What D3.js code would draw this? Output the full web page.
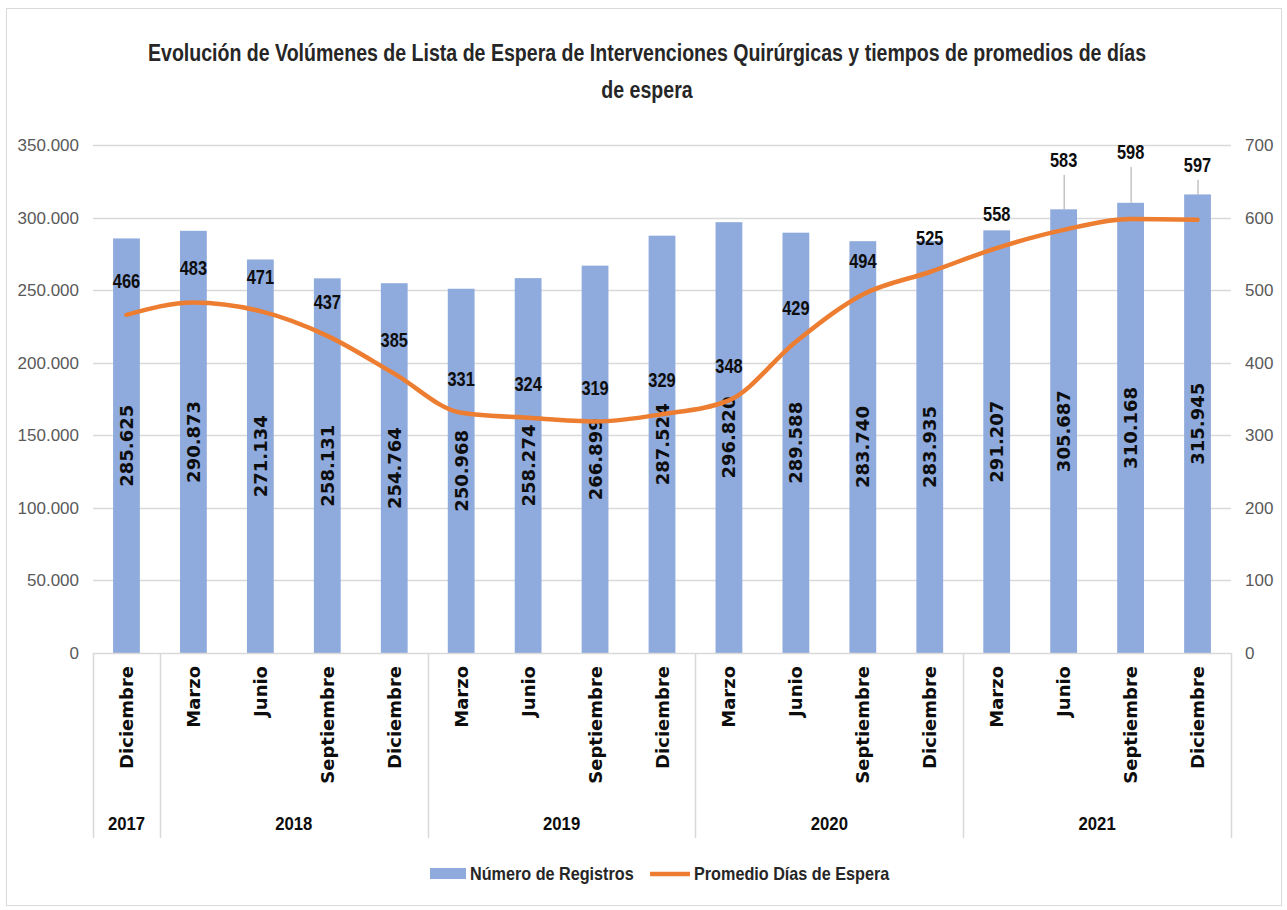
<!DOCTYPE html>
<html>
<head>
<meta charset="utf-8">
<script src="https://cdn.jsdelivr.net/npm/d3@7"></script>
<style>
  body { margin: 0; background: #fff; }
  .narrow { font-family: "Liberation Sans", Arial, sans-serif; }
  .wide { font-family: "DejaVu Sans", Verdana, sans-serif; }
</style>
</head>
<body>
<div id="chart"></div>
<script>
// categories
var years = ["2017", "2018", "2018", "2018", "2018", "2019", "2019", "2019", "2019",
             "2020", "2020", "2020", "2020", "2021", "2021", "2021", "2021"];
var months = ["Diciembre", "Marzo", "Junio", "Septiembre", "Diciembre", "Marzo", "Junio",
              "Septiembre", "Diciembre", "Marzo", "Junio", "Septiembre", "Diciembre",
              "Marzo", "Junio", "Septiembre", "Diciembre"];
// series
var registros = [285625, 290873, 271134, 258131, 254764, 250968, 258274, 266899, 287524,
                 296820, 289588, 283740, 283935, 291207, 305687, 310168, 315945];
var promedioDias = [466, 483, 471, 437, 385, 331, 324, 319, 329, 348, 429, 494, 525,
                    558, 583, 598, 597];
// axis ticks
var leftTicks = [0, 50000, 100000, 150000, 200000, 250000, 300000, 350000];
var rightTicks = [0, 100, 200, 300, 400, 500, 600, 700];

var width = 1287, height = 910;
var margin = { top: 145, left: 93, right: 56, bottom: 257 };

var es = d3.formatLocale({ decimal: ",", thousands: ".", grouping: [3], currency: ["", " €"] });
var fmt = es.format(",d");

var svg = d3.select("#chart").append("svg")
    .attr("width", width)
    .attr("height", height);

// chart frame
svg.append("rect")
    .attr("x", 6.5).attr("y", 8.5)
    .attr("width", 1275).attr("height", 897)
    .attr("fill", "#fff")
    .attr("stroke", "#d9d9d9");

// title, squeezed horizontally to look like the condensed original
var title = svg.append("text")
    .attr("class", "narrow")
    .attr("text-anchor", "middle")
    .attr("font-size", 24)
    .attr("font-weight", "bold")
    .attr("fill", "#262626");
var t1 = title.append("tspan").attr("x", 0).attr("y", 61)
    .text("Evolución de Volúmenes de Lista de Espera de Intervenciones Quirúrgicas y tiempos de promedios de días");
title.append("tspan").attr("x", 0).attr("y", 98).text("de espera");
var k = 999 / t1.node().getComputedTextLength();
title.attr("transform", "translate(647,0) scale(" + k + ",1)");

var x = d3.scaleBand()
    .domain(d3.range(registros.length))
    .range([margin.left, width - margin.right])
    .padding(0);

var y = d3.scaleLinear()
    .domain([0, 350000])
    .range([height - margin.bottom, margin.top]);

var y2 = d3.scaleLinear()
    .domain([0, 700])
    .range([height - margin.bottom, margin.top]);

var bw = x.bandwidth() * 0.4;

// gridlines
svg.append("g")
    .selectAll("line")
    .data(leftTicks.slice(1))
    .enter().append("line")
    .attr("x1", margin.left)
    .attr("x2", width - margin.right)
    .attr("y1", function(d) { return Math.round(y(d)) + 0.5; })
    .attr("y2", function(d) { return Math.round(y(d)) + 0.5; })
    .attr("stroke", "#d9d9d9")
    .attr("stroke-width", 1.5);

// left axis
var leftAxis = svg.append("g")
    .attr("class", "narrow")
    .attr("transform", "translate(" + (margin.left - 14) + ",0)")
    .call(d3.axisLeft(y).tickValues(leftTicks).tickSize(0).tickPadding(0)
        .tickFormat(function(d) { return fmt(d); }));
leftAxis.select(".domain").remove();
leftAxis.attr("font-family", null).attr("font-size", null);
leftAxis.selectAll("text").attr("font-size", 17).attr("fill", "#595959");

// right axis
var rightAxis = svg.append("g")
    .attr("class", "narrow")
    .attr("transform", "translate(" + (width - margin.right + 14) + ",0)")
    .call(d3.axisRight(y2).tickValues(rightTicks).tickSize(0).tickPadding(0));
rightAxis.select(".domain").remove();
rightAxis.attr("font-family", null).attr("font-size", null);
rightAxis.selectAll("text").attr("font-size", 17).attr("fill", "#595959");

// bars
svg.append("g")
    .selectAll("rect")
    .data(registros)
    .enter().append("rect")
    .attr("x", function(d, i) { return x(i) + (x.bandwidth() - bw) / 2; })
    .attr("y", function(d) { return y(d); })
    .attr("width", bw)
    .attr("height", function(d) { return y(0) - y(d); })
    .attr("fill", "#8faadc");

// baseline
svg.append("line")
    .attr("x1", margin.left).attr("x2", width - margin.right)
    .attr("y1", y(0) + 0.5).attr("y2", y(0) + 0.5)
    .attr("stroke", "#d9d9d9").attr("stroke-width", 1.5);

// bar value labels, rotated, centred in the bar
svg.append("g")
    .attr("class", "wide")
    .selectAll("text")
    .data(registros)
    .enter().append("text")
    .attr("transform", function(d, i) {
        return "translate(" + (x(i) + x.bandwidth() / 2 + 6.5) + "," + (y(d / 2)) + ") rotate(-90)";
    })
    .attr("text-anchor", "middle")
    .attr("font-size", 18)
    .attr("font-weight", "bold")
    .attr("fill", "#0d0d0d")
    .text(function(d) { return fmt(d); });

// smoothed line
var line = d3.line()
    .x(function(d, i) { return x(i) + x.bandwidth() / 2; })
    .y(function(d) { return y2(d); })
    .curve(d3.curveMonotoneX);

svg.append("path")
    .datum(promedioDias)
    .attr("d", line)
    .attr("fill", "none")
    .attr("stroke", "#ed7d31")
    .attr("stroke-width", 4.5)
    .attr("stroke-linecap", "round");

// line labels; the last three were dragged up in the original and carry leader lines
var lift = function(i) {
    if (i === 14) return 70;
    if (i === 15) return 67;
    if (i === 16) return 55;
    return 34;
};

svg.append("g")
    .selectAll("line")
    .data(promedioDias.slice(14))
    .enter().append("line")
    .attr("x1", function(d, i) { return x(i + 14) + x.bandwidth() / 2 + 0.5; })
    .attr("x2", function(d, i) { return x(i + 14) + x.bandwidth() / 2 + 0.5; })
    .attr("y1", function(d, i) { return y2(d) - lift(i + 14) + 15; })
    .attr("y2", function(d, i) { return y(registros[i + 14]); })
    .attr("stroke", "#a6a6a6")
    .attr("stroke-width", 1);

svg.append("g")
    .attr("class", "narrow")
    .selectAll("text")
    .data(promedioDias)
    .enter().append("text")
    .attr("transform", function(d, i) {
        return "translate(" + (x(i) + x.bandwidth() / 2) + "," + (y2(d) - lift(i)) + ") scale(0.82,1)";
    })
    .attr("dy", "0.35em")
    .attr("text-anchor", "middle")
    .attr("font-size", 20)
    .attr("font-weight", "bold")
    .attr("fill", "#0d0d0d")
    .text(function(d) { return d; });

// month labels
svg.append("g")
    .attr("class", "wide")
    .selectAll("text")
    .data(months)
    .enter().append("text")
    .attr("transform", function(d, i) {
        return "translate(" + (x(i) + x.bandwidth() / 2 + 6.5) + "," + (y(0) + 13) + ") rotate(-90)";
    })
    .attr("text-anchor", "end")
    .attr("font-size", 18)
    .attr("font-weight", "bold")
    .attr("fill", "#0d0d0d")
    .text(function(d) { return d; });

// year groups
var groups = [];
years.forEach(function(yr, i) {
    var last = groups[groups.length - 1];
    if (last && last.year === yr) last.end = i;
    else groups.push({ year: yr, start: i, end: i });
});

var dividers = groups.map(function(g) { return x(g.start); });
dividers.push(x(years.length - 1) + x.bandwidth());

svg.append("g")
    .selectAll("line")
    .data(dividers)
    .enter().append("line")
    .attr("x1", function(d) { return Math.round(d) + 0.5; })
    .attr("x2", function(d) { return Math.round(d) + 0.5; })
    .attr("y1", y(0))
    .attr("y2", y(0) + 185)
    .attr("stroke", "#d9d9d9")
    .attr("stroke-width", 1.5);

svg.append("g")
    .attr("class", "narrow")
    .selectAll("text")
    .data(groups)
    .enter().append("text")
    .attr("transform", function(g) {
        return "translate(" + ((x(g.start) + x(g.end) + x.bandwidth()) / 2) + "," + (y(0) + 170) + ") scale(0.88,1)";
    })
    .attr("dy", "0.35em")
    .attr("text-anchor", "middle")
    .attr("font-size", 19)
    .attr("font-weight", "bold")
    .attr("fill", "#0d0d0d")
    .text(function(g) { return g.year; });

// legend
var legend = svg.append("g").attr("class", "narrow");
legend.append("rect")
    .attr("x", 430).attr("y", 868)
    .attr("width", 36).attr("height", 11)
    .attr("fill", "#8faadc");
legend.append("text")
    .attr("transform", "translate(470,874) scale(0.9,1)")
    .attr("dy", "0.35em")
    .attr("font-size", 18).attr("font-weight", 600).attr("fill", "#262626")
    .text("Número de Registros");
legend.append("line")
    .attr("x1", 650).attr("x2", 690)
    .attr("y1", 874).attr("y2", 874)
    .attr("stroke", "#ed7d31").attr("stroke-width", 4.5);
legend.append("text")
    .attr("transform", "translate(694,874) scale(0.9,1)")
    .attr("dy", "0.35em")
    .attr("font-size", 18).attr("font-weight", 600).attr("fill", "#262626")
    .text("Promedio Días de Espera");
</script>
</body>
</html>
